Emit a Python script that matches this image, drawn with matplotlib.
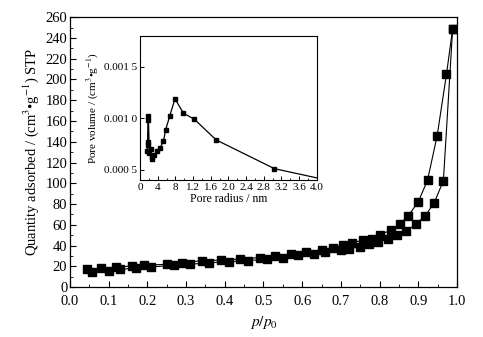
import matplotlib
matplotlib.use("Agg")
import matplotlib.pyplot as plt
from matplotlib.ticker import MultipleLocator

plt.rcParams['font.family'] = ['Liberation Serif', 'DejaVu Serif']
plt.rcParams['mathtext.fontset'] = 'stix'

# isotherm, upper branch (desorption)
p_des = [0.045, 0.08, 0.12, 0.16, 0.19, 0.25, 0.29, 0.34, 0.39, 0.44, 0.49, 0.53,
         0.57, 0.61, 0.65, 0.68, 0.705, 0.73, 0.756, 0.78, 0.80, 0.829, 0.852,
         0.874, 0.90, 0.924, 0.949, 0.973, 0.989]
q_des = [17, 18, 19, 20.5, 21, 22, 23.5, 25.5, 26, 27, 28.5, 30, 31.5, 33.5, 36,
         38, 40.5, 42.7, 45.3, 46, 50, 55, 60.4, 68.7, 82, 103, 146, 205, 249]

# isotherm, lower branch (adsorption)
p_ads = [0.058, 0.10, 0.13, 0.17, 0.21, 0.27, 0.31, 0.36, 0.41, 0.46, 0.51, 0.55,
         0.59, 0.63, 0.66, 0.70, 0.72, 0.75, 0.773, 0.797, 0.822, 0.844, 0.868,
         0.893, 0.918, 0.941, 0.965, 0.989]
q_ads = [14.5, 16, 17, 18.5, 19.5, 21, 22, 23.5, 24.5, 25.5, 27, 28.5, 30.5, 32,
         34, 35.5, 37, 39, 42, 43.6, 46.2, 50, 54, 60.4, 68.7, 81, 102.4, 249]

# pore size distribution (inset)
radius = [0.16, 0.17, 0.17, 0.18, 0.19, 0.21, 0.24, 0.26, 0.28, 0.32, 0.38, 0.45,
          0.53, 0.58, 0.67, 0.79, 0.98, 1.23, 1.72, 3.04, 4.0]
volume = [0.00068, 0.00074, 0.00077, 0.00102, 0.00098, 0.00066, 0.00070, 0.00062,
          0.00060, 0.00064, 0.00068, 0.00071, 0.00078, 0.00089, 0.00102, 0.00119,
          0.00105, 0.00099, 0.00079, 0.00051, 0.00042]

inset_xticks = [0, 0.4, 0.8, 1.2, 1.6, 2.0, 2.4, 2.8, 3.2, 3.6, 4.0]
inset_xlabels = ['0', '4', '8', '1.2', '1.6', '2.0', '2.4', '2.8', '3.2', '3.6', '4.0']
inset_yticks = [0.0005, 0.0010, 0.0015]
inset_ylabels = ['0.000 5', '0.001 0', '0.001 5']

fig = plt.figure(figsize=(4.83, 3.37), dpi=100)

ax = fig.add_axes([0.145, 0.148, 0.801, 0.801])
ax.plot(p_des, q_des, color='black', lw=0.8, marker='s', ms=5.5)
ax.plot(p_ads, q_ads, color='black', lw=0.8, marker='s', ms=5.5)
ax.set_xlim(0, 1.0)
ax.set_ylim(0, 260)
ax.xaxis.set_major_locator(MultipleLocator(0.1))
ax.xaxis.set_minor_locator(MultipleLocator(0.05))
ax.yaxis.set_major_locator(MultipleLocator(20))
ax.yaxis.set_minor_locator(MultipleLocator(10))
ax.xaxis.set_major_formatter(plt.FormatStrFormatter('%.1f'))
ax.tick_params(which='both', direction='in', top=False, right=False, labelsize=10.5)
ax.tick_params(axis='x', pad=6)
ax.tick_params(axis='y', pad=2)
ax.tick_params(which='major', length=4, width=0.8)
ax.tick_params(which='minor', length=2, width=0.6)
for s in ax.spines.values():
    s.set_linewidth(0.9)
ax.set_xlabel('$p/p_0$', fontsize=11, labelpad=4)
ax.set_ylabel('Quantity adsorbed / (cm$^3$•g$^{-1}$) STP', fontsize=10.5, labelpad=3)

ins = fig.add_axes([0.290, 0.466, 0.366, 0.427])
ins.plot(radius, volume, color='black', lw=0.9, marker='s', ms=3,
         markevery=list(range(len(radius) - 1)))
ins.set_xlim(0, 4.0)
ins.set_ylim(0.0004, 0.0018)
ins.set_xticks(inset_xticks)
ins.set_xticklabels(inset_xlabels)
ins.set_yticks(inset_yticks)
ins.set_yticklabels(inset_ylabels)
ins.xaxis.set_minor_locator(MultipleLocator(0.2))
ins.tick_params(which='both', direction='in', top=False, right=False, labelsize=8, pad=2)
ins.tick_params(which='major', length=3, width=0.7)
ins.tick_params(which='minor', length=1.5, width=0.6)
for s in ins.spines.values():
    s.set_linewidth(0.8)
ins.set_xlabel('Pore radius / nm', fontsize=8.5, labelpad=1)
ins.set_ylabel('Pore volume / (cm$^3$•g$^{-1}$)', fontsize=8, labelpad=3)

fig.savefig('out.png', dpi=100)
